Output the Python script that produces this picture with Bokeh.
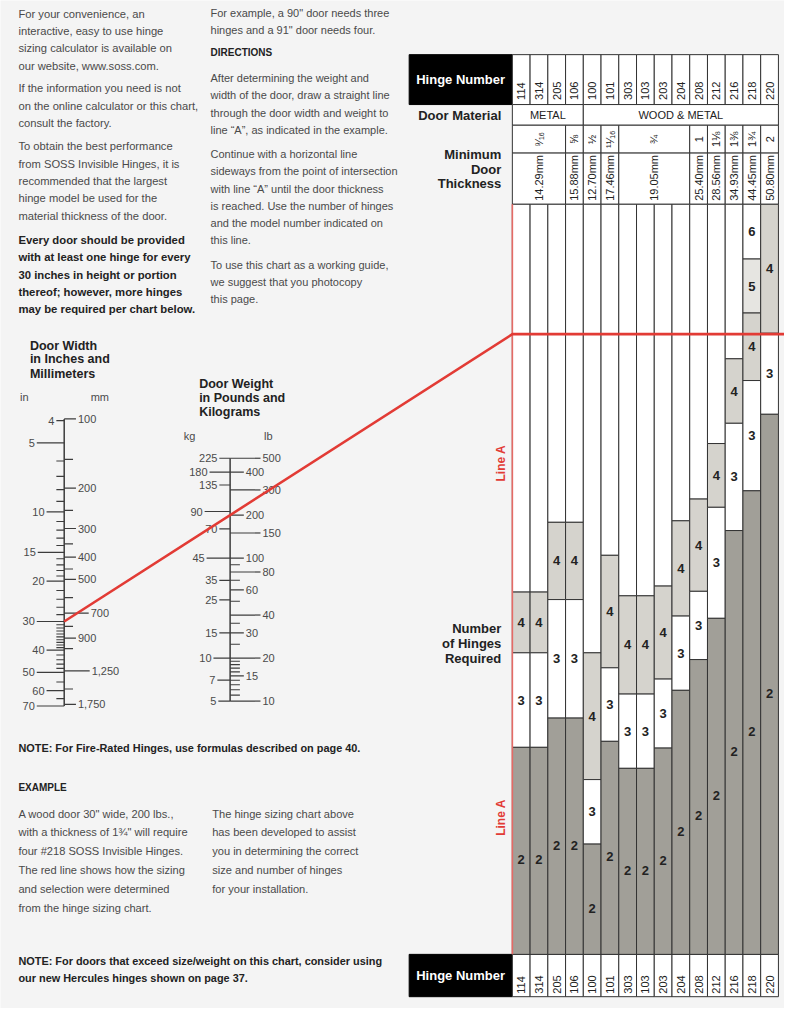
import numpy as np
import pandas as pd
from bokeh.plotting import figure
from bokeh.models import Range1d
from bokeh.core.properties import value
from bokeh.embed import file_html
from bokeh.resources import INLINE

nan = float("nan")

# ---------------- data ----------------
hinges = ["114", "314", "205", "106", "100", "101", "303", "103", "203", "204",
          "208", "212", "216", "218", "220"]
material_labels = ["METAL", "WOOD & METAL"]
material_spans = [4, 11]
thickness_frac = ["\u2079\u2044\u2081\u2086", "\u215d", "\u00bd", "\u00b9\u00b9\u2044\u2081\u2086", "\u00be",
                  "1", "1\u215b", "1\u215c", "1\u00be", "2"]
thickness_mm = ["14.29mm", "15.88mm", "12.70mm", "17.46mm", "19.05mm",
                "25.40mm", "28.56mm", "34.93mm", "44.45mm", "50.80mm"]
thickness_spans = [3, 1, 1, 1, 4, 1, 1, 1, 1, 1]

# position on Line A (% of its length, from the bottom) where each hinge-count band starts
top6 = [nan] * 13 + [100.0, nan]
top5 = [nan] * 13 + [92.7, nan]
top4 = [48.3, 48.3, 57.6, 57.6, 40.2, 53.2, 47.8, 47.8, 49.1, 57.8, 60.7, 68.1, 79.4, 85.5, 100.0]
top3 = [40.2, 40.2, 47.3, 47.3, 23.3, 38.2, 34.7, 34.7, 36.7, 45.1, 48.4, 59.6, 70.8, 76.5, 82.8]
top2 = [27.6, 27.6, 31.5, 31.5, 14.7, 28.4, 24.8, 24.8, 27.5, 35.2, 39.3, 44.8, 56.5, 61.8, 72.0]

width_in_major = [4, 5, 10, 15, 20, 30, 40, 50, 60, 70]
width_in_minor = [6, 7, 8, 9, 11, 12, 13, 14, 16, 17, 18, 19, 22, 24, 26, 28,
                  31, 32, 33, 34, 35, 36, 37, 38, 39, 42, 44, 46, 48, 55, 65]
width_mm_major = [100, 200, 300, 400, 500, 700, 900, 1250, 1750]
width_mm_labels = ["100", "200", "300", "400", "500", "700", "900", "1,250", "1,750"]
width_mm_minor = [150, 250, 350, 450, 600, 800, 1000, 1500]

weight_lb_major = [500, 400, 300, 200, 150, 100, 80, 60, 40, 30, 20, 15, 10]
weight_lb_minor = [90, 70, 50, 35, 25, 19, 18, 17, 16, 14, 13, 12, 11]
weight_kg_major = [225, 180, 135, 90, 70, 45, 35, 25, 15, 10, 7, 5]
weight_kg_pos_lb = [500, 400, 325, 212, 160, 100, 70, 51, 30, 20, 14, 10]

example_width_in = 30
example_weight_lb = 200

# ---------------- layout / style ----------------
SANS = value("Liberation Sans")
BG = "#f4f4f4"
INK = "#222222"
GREY_TXT = "#4a4a4a"
RED = "#e23b35"
BAND_COL = {0: "#ffffff", 2: "#a19f98", 3: "#ffffff", 4: "#d5d3cd", 5: "#e6e5e1", 6: "#ffffff"}

COL_X0, COL_W = 522.3, 18.1
LA_TOP, LA_BOT = 207.0, 969.0
HN_TOP, HN_BOT, MAT_BOT, FR_BOT = 55.0, 105.7, 126.7, 155.0
BN_TOP, BN_BOT = 969.0, 1012.0
BOX_L = 417.0

W_X, W_Y0, W_DEC = 65.0, 426.7, 233.3      # width nomogram (log scale)
L_X, L_Y0, L_DEC = 234.3, 711.7, 145.2     # weight nomogram (log scale)


def y_width_in(v):
    return W_Y0 + W_DEC * np.log10(np.asarray(v, dtype=float) / min(width_in_major))


def y_width_mm(v):
    return y_width_in(np.asarray(v, dtype=float) / 25.4)


def y_lb(v):
    return L_Y0 - L_DEC * np.log10(np.asarray(v, dtype=float) / min(weight_lb_major))


def y_lineA(pct):
    return LA_BOT - np.asarray(pct, dtype=float) / 100.0 * (LA_BOT - LA_TOP)


p = figure(width=784, height=1008, x_range=Range1d(0, 800), y_range=Range1d(1024, 0),
           output_backend="svg", toolbar_location=None, min_border=0,
           x_axis_type=None, y_axis_type=None,
           background_fill_color=BG, border_fill_color=BG, outline_line_color=None)
p.xgrid.visible = False
p.ygrid.visible = False


def txt(x, y, t, size="12px", font=SANS, style="normal", color=INK, align="left",
        baseline="middle", angle=0.0):
    p.text(x=x, y=y, text=t, text_font=font, text_font_size=size, text_font_style=style,
           text_color=color, text_align=align, text_baseline=baseline, angle=angle)


# ---------------- left text blocks ----------------
col1_pars = [
    ["For your convenience, an", "interactive, easy to use hinge",
     "sizing calculator is available on", "our website, www.soss.com."],
    ["If the information you need is not", "on the online calculator or this chart,",
     "consult the factory."],
    ["To obtain the best performance", "from SOSS Invisible Hinges, it is",
     "recommended that the largest", "hinge model be used for the",
     "material thickness of the door."],
]
col1_starts = [13.3, 89.3, 148.3]
col1_bold = ["Every door should be provided", "with at least one hinge for every",
             "30 inches in height or portion", "thereof; however, more hinges",
             "may be required per chart below."]
LH = 17.6
for par, y0 in zip(col1_pars, col1_starts):
    txt([18.3] * len(par), [y0 + i * LH for i in range(len(par))], par,
        size="11.2px", color=GREY_TXT)
txt([18.3] * 5, [243.3 + i * LH for i in range(5)], col1_bold, size="11.3px",
    style="bold", color=INK)

col2_pars = [
    ["For example, a 90\" door needs three", "hinges and a 91\" door needs four."],
    ["After determining the weight and", "width of the door, draw a straight line",
     "through the door width and weight to", "line \u201cA\u201d, as indicated in the example."],
    ["Continue with a horizontal line", "sideways from the point of intersection",
     "with line \u201cA\u201d until the door thickness", "is reached. Use the number of hinges",
     "and the model number indicated on", "this line."],
    ["To use this chart as a working guide,", "we suggest that you photocopy", "this page."],
]
col2_starts = [12.7, 79.0, 156.0, 268.7]
for par, y0 in zip(col2_pars, col2_starts):
    txt([214.3] * len(par), [y0 + i * 17.5 for i in range(len(par))], par,
        size="11px", color=GREY_TXT)
txt([214.3], [53.3], ["DIRECTIONS"], size="10px", style="bold", color=INK)

# ---------------- bottom text ----------------
txt([18.3], [759.0], ["NOTE: For Fire-Rated Hinges, use formulas described on page 40."],
    size="10.9px", style="bold", color=INK)
txt([18.3], [799.0], ["EXAMPLE"], size="10px", style="bold", color=INK)
ex1 = ["A wood door 30\" wide, 200 lbs.,", "with a thickness of 1\u00be\" will require",
       "four #218 SOSS Invisible Hinges.", "The red line shows how the sizing",
       "and selection were determined", "from the hinge sizing chart."]
ex2 = ["The hinge sizing chart above", "has been developed to assist",
       "you in determining the correct", "size and number of hinges", "for your installation."]
txt([18.3] * len(ex1), [826.0 + i * 19.1 for i in range(len(ex1))], ex1,
    size="11.1px", color=GREY_TXT)
txt([216.0] * len(ex2), [826.0 + i * 19.1 for i in range(len(ex2))], ex2,
    size="11.1px", color=GREY_TXT)
txt([18.3, 18.3], [976.0, 993.3],
    ["NOTE: For doors that exceed size/weight on this chart, consider using",
     "our new Hercules hinges shown on page 37."],
    size="10.9px", style="bold", color=INK)

# ---------------- width nomogram ----------------
txt([30.0] * 3, [350.7, 364.3, 379.0], ["Door Width", "in Inches and", "Millimeters"],
    size="12.5px", style="bold", color=INK)
txt([20.0, 92.0], [403.0, 403.0], ["in", "mm"], size="11px", color=GREY_TXT)
TICK = "#3c3c3c"
p.segment(x0=[W_X], y0=[float(y_width_mm(min(width_mm_major)))], x1=[W_X],
          y1=[float(y_width_in(max(width_in_major)))], line_color=TICK, line_width=1.5)
in_len = [8, 28, 18, 27, 18, 28, 18, 28, 18, 28]
yi = y_width_in(width_in_major)
p.segment(x0=W_X - np.array(in_len), y0=yi, x1=[W_X] * len(yi), y1=yi, line_color=TICK, line_width=1.2)
txt(list(W_X - np.array(in_len) - 2), list(yi), [str(v) for v in width_in_major],
    size="11px", color=GREY_TXT, align="right")
ym = y_width_in(width_in_minor)
p.segment(x0=[W_X - 8] * len(ym), y0=ym, x1=[W_X] * len(ym), y1=ym, line_color=TICK, line_width=1.1)
mm_len = [12, 12, 12, 12, 12, 25, 12, 26, 12]
ymm = y_width_mm(width_mm_major)
p.segment(x0=[W_X] * len(ymm), y0=ymm, x1=W_X + np.array(mm_len), y1=ymm, line_color=TICK, line_width=1.2)
txt(list(W_X + np.array(mm_len) + 2), list(ymm), width_mm_labels, size="11px", color=GREY_TXT)
ymn = y_width_mm(width_mm_minor)
p.segment(x0=[W_X] * len(ymn), y0=ymn, x1=[W_X + 9] * len(ymn), y1=ymn, line_color=TICK, line_width=1.1)

# ---------------- weight nomogram ----------------
txt([202.7] * 3, [390.0, 404.0, 418.3], ["Door Weight", "in Pounds and", "Kilograms"],
    size="12.5px", style="bold", color=INK)
txt([187.0, 269.0], [442.0, 442.0], ["kg", "lb"], size="11px", color=GREY_TXT)
p.segment(x0=[L_X], y0=[float(y_lb(max(weight_lb_major)))], x1=[L_X],
          y1=[float(y_lb(min(weight_lb_major)))], line_color=TICK, line_width=1.5)
lb_len = np.array([31 if k % 2 == 0 else 14 for k in range(len(weight_lb_major))])
yl = y_lb(weight_lb_major)
p.segment(x0=[L_X] * len(yl), y0=yl, x1=L_X + lb_len, y1=yl, line_color=TICK, line_width=1.2)
txt(list(L_X + lb_len + 2), list(yl), [str(v) for v in weight_lb_major], size="11px", color=GREY_TXT)
yln = y_lb(weight_lb_minor)
p.segment(x0=[L_X] * len(yln), y0=yln, x1=[L_X + 10] * len(yln), y1=yln, line_color=TICK, line_width=1.1)
kg_len = np.array([11, 21, 11, 26, 11, 24, 11, 11, 11, 17, 13, 12])
yk = y_lb(weight_kg_pos_lb)
p.segment(x0=L_X - kg_len, y0=yk, x1=[L_X] * len(yk), y1=yk, line_color=TICK, line_width=1.2)
txt(list(L_X - kg_len - 2), list(yk), [str(v) for v in weight_kg_major], size="11px",
    color=GREY_TXT, align="right")

# ---------------- hinge chart: header ----------------
n_col = len(hinges)
lefts = COL_X0 + np.arange(n_col) * COL_W
rights = lefts + COL_W
cx = lefts + COL_W / 2
LINE = "#333333"

p.quad(left=[BOX_L, BOX_L], right=[COL_X0, COL_X0], top=[HN_TOP, BN_TOP], bottom=[HN_BOT, BN_BOT],
       fill_color="#000000", line_color="#000000")
txt([469.5, 469.5], [80.5, 990.5], ["Hinge Number", "Hinge Number"], size="13px",
    style="bold", color="#ffffff", align="center")

p.quad(left=lefts, right=rights, top=[HN_TOP] * n_col, bottom=[HN_BOT] * n_col,
       fill_color="#ffffff", line_color=LINE, line_width=1)
p.quad(left=lefts, right=rights, top=[BN_TOP] * n_col, bottom=[BN_BOT] * n_col,
       fill_color="#ffffff", line_color=LINE, line_width=1)
txt(list(cx), [101.0] * n_col, hinges, size="11px", color=INK, angle=np.pi / 2)
txt(list(cx), [1009.0] * n_col, hinges, size="11px", color=INK, angle=np.pi / 2)

ms = np.concatenate([[0], np.cumsum(material_spans)])
p.quad(left=COL_X0 + ms[:-1] * COL_W, right=COL_X0 + ms[1:] * COL_W, top=[HN_BOT] * 2,
       bottom=[MAT_BOT] * 2, fill_color="#ffffff", line_color=LINE, line_width=1)
txt(list(COL_X0 + (ms[:-1] + ms[1:]) / 2 * COL_W), [116.5] * 2, material_labels,
    size="11px", color=INK, align="center")

ts = np.concatenate([[0], np.cumsum(thickness_spans)])
tl, tr = COL_X0 + ts[:-1] * COL_W, COL_X0 + ts[1:] * COL_W
p.quad(left=tl, right=tr, top=[MAT_BOT] * len(tl), bottom=[FR_BOT] * len(tl),
       fill_color="#ffffff", line_color=LINE, line_width=1)
p.quad(left=tl, right=tr, top=[FR_BOT] * len(tl), bottom=[LA_TOP] * len(tl),
       fill_color="#ffffff", line_color=LINE, line_width=1)
txt(list((tl + tr) / 2), [141.0] * len(tl), thickness_frac, size="11px", color=INK,
    align="center", angle=np.pi / 2)
txt(list((tl + tr) / 2), [203.5] * len(tl), thickness_mm, size="11px", color=INK,
    angle=np.pi / 2)

txt([511.0], [116.5], ["Door Material"], size="13px", style="bold", align="right")
txt([511.0] * 3, [156.7, 171.7, 186.3], ["Minimum", "Door", "Thickness"], size="13px",
    style="bold", align="right")
txt([511.0] * 3, [638.0, 653.0, 668.0], ["Number", "of Hinges", "Required"], size="13px",
    style="bold", align="right")

# ---------------- hinge chart: bands ----------------
rows = []
for i in range(n_col):
    bands = [(n, t) for n, t in zip([6, 5, 4, 3, 2], [top6[i], top5[i], top4[i], top3[i], top2[i]])
             if t == t]
    if bands[0][1] < 100.0:
        rows.append(dict(col=i, n=0, top=100.0, bottom=bands[0][1]))
    for k, (n, t) in enumerate(bands):
        b = bands[k + 1][1] if k + 1 < len(bands) else 0.0
        rows.append(dict(col=i, n=n, top=t, bottom=b))
df = pd.DataFrame(rows)
df["left"] = lefts[df["col"]]
df["right"] = rights[df["col"]]
df["y_top"] = y_lineA(df["top"])
df["y_bot"] = y_lineA(df["bottom"])
df["fill"] = [BAND_COL[n] for n in df["n"]]
p.quad(left="left", right="right", top="y_top", bottom="y_bot", fill_color="fill",
       line_color=LINE, line_width=1, source=df)
lab = df[df["n"] > 0].copy()
lab["ly"] = (lab["y_top"] + lab["y_bot"]) / 2 + np.where(lab["n"] == 2, 9.0, 0.0)
lab["lx"] = (lab["left"] + lab["right"]) / 2
lab["t"] = lab["n"].astype(str)
p.text(x="lx", y="ly", text="t", source=lab, text_font=SANS, text_font_size="13px",
       text_font_style="bold", text_color=INK, text_align="center", text_baseline="middle")

# ---------------- Line A and the worked example ----------------
p.segment(x0=[COL_X0], y0=[LA_TOP], x1=[COL_X0], y1=[LA_BOT], line_color="#e46a66", line_width=1.6)
txt([511.0, 511.0], [470.0, 830.0], ["Line A", "Line A"], size="12px", style="bold",
    color=RED, align="center", angle=np.pi / 2)

xa, ya = W_X, float(y_width_in(example_width_in))
xb, yb = L_X, float(y_lb(example_weight_lb))
y_cross = ya + (yb - ya) / (xb - xa) * (COL_X0 - xa)
p.line(x=[xa, COL_X0, 800.0], y=[ya, y_cross, y_cross], line_color=RED, line_width=2.6)

open("out.html", "w").write(file_html(p, INLINE))
